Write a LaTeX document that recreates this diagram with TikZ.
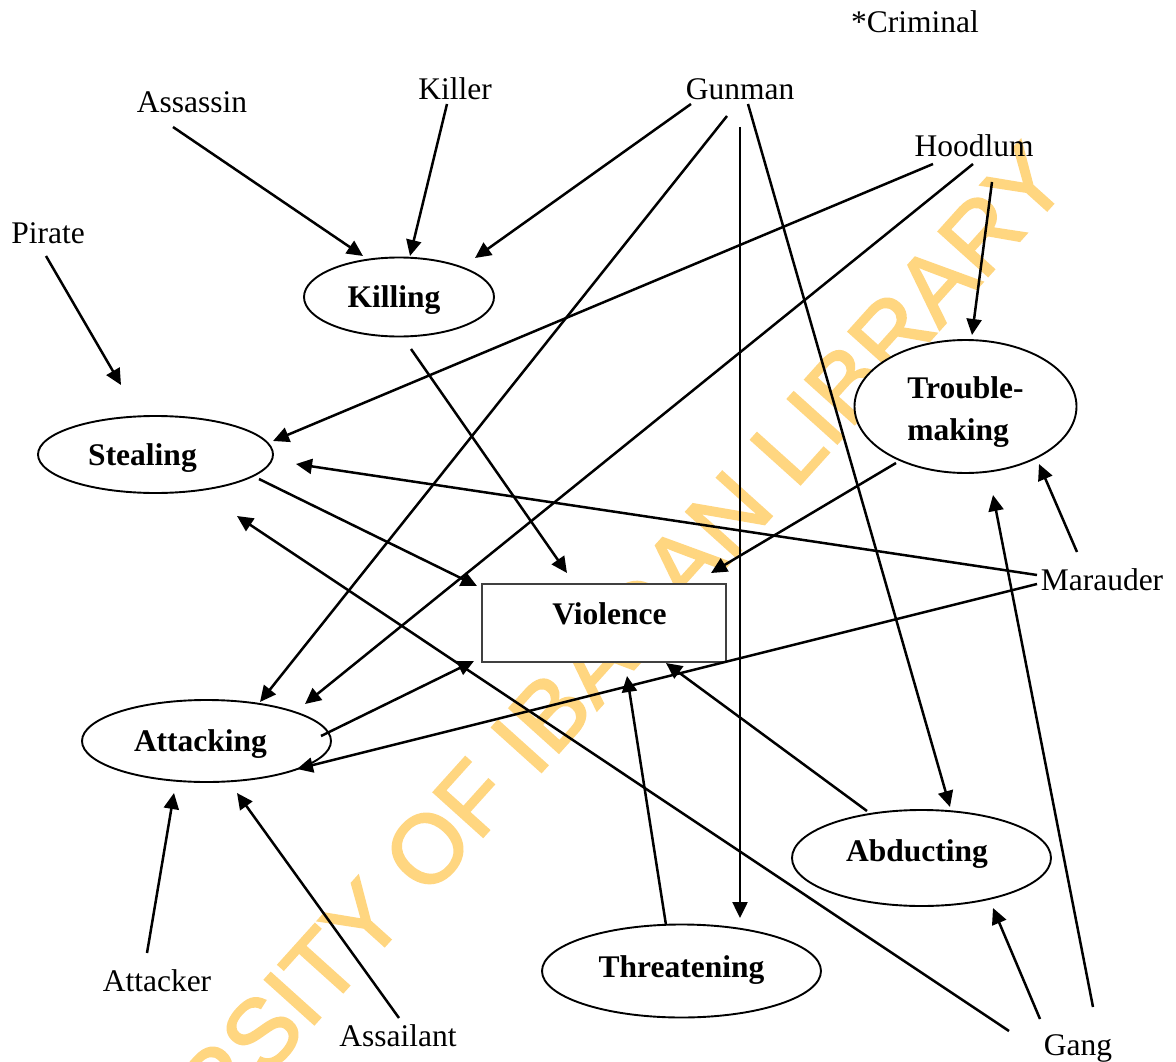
\documentclass[tikz,border=0pt]{standalone}
\usepackage{fontspec}
\setmainfont{Liberation Serif}
\newfontfamily\wmfont[FakeBold=2]{Liberation Sans}
\usetikzlibrary{arrows.meta,shapes.geometric}
\definecolor{wmyellow}{RGB}{255,214,128}
\begin{document}
\begin{tikzpicture}[x=1pt,y=-1pt,
  lbl/.style={font=\fontsize{31.5}{38}\selectfont, inner sep=0pt, anchor=base},
  ell/.style={ellipse, draw, fill=white, line width=1.9pt, inner sep=0pt,
    font=\bfseries\fontsize{31.5}{42}\selectfont, text height=21pt, text depth=0pt},
  rectbox/.style={rectangle, draw=black!75, fill=white, line width=1.7pt, inner sep=0pt,
    font=\bfseries\fontsize{31.5}{42}\selectfont, text height=21pt, text depth=18pt},
  conn/.style={line width=2.5pt, -{Triangle[length=16pt,width=15pt]}}]
\useasboundingbox (0,0) rectangle (1176,1062);
\clip (0,0) rectangle (1176,1062);
\fill[white] (0,0) rectangle (1176,1062);

% watermark
\node[rotate=48, text=wmyellow, font=\wmfont\fontsize{97}{97}\selectfont,
  inner sep=0pt, text height=69.5pt, text depth=0pt] (wm) at (520,744) {UNIVERSITY OF IBADAN LIBRARY};

% plain labels
\node[lbl] (criminal) at (915,33) {*Criminal};
\node[lbl] (assassin) at (192,113) {Assassin};
\node[lbl] (killer) at (455,100) {Killer};
\node[lbl] (gunman) at (740,100) {Gunman};
\node[lbl] (hoodlum) at (974,157) {Hoodlum};
\node[lbl] (pirate) at (48,243) {Pirate};
\node[lbl] (marauder) at (1102,590) {Marauder};
\node[lbl] (attacker) at (157,991) {Attacker};
\node[lbl] (assailant) at (398,1046) {Assailant};
\node[lbl] (gang) at (1078,1055) {Gang};

% concept nodes
\node[ell, minimum width=190pt, minimum height=79pt] (killing) at (399,297) {Killing\hspace*{10pt}};
\node[ell, minimum width=235pt, minimum height=77pt] (stealing) at (155.5,454.5) {Stealing\hspace*{26pt}};
\node[ell, minimum width=222pt, minimum height=133pt, text height=67pt, text depth=0pt] (trouble) at (965.5,406.5)
  {\begin{tabular}[b]{@{}l@{}}Trouble-\\making\end{tabular}};
\node[rectbox, minimum width=244pt, minimum height=78pt] (violence) at (604,623) {\hspace*{11pt}Violence};
\node[ell, minimum width=249pt, minimum height=82pt] (attacking) at (206.5,741) {Attacking\hspace*{12pt}};
\node[ell, minimum width=259pt, minimum height=96pt, text depth=14pt] (abducting) at (921.5,858) {Abducting\hspace*{9pt}};
\node[ell, minimum width=279pt, minimum height=93pt, text depth=9pt] (threatening) at (681.5,971) {Threatening};

% connectors
\draw[conn] ([shift={(-19,14)}]assassin.base) -- ([shift={(-36,-41)}]killing.center);
\draw[conn] ([shift={(-8,4)}]killer.base) -- ([shift={(11,-41)}]killing.center);
\draw[conn] ([shift={(-49,4)}]gunman.base) -- ([shift={(76,-39)}]killing.center);
\draw[conn] ([shift={(-13,16)}]gunman.base) -- ([shift={(53.5,-39)}]attacking.center);
\draw[conn] ([shift={(0,27)}]gunman.base) -- ([shift={(58.5,-53)}]threatening.center);
\draw[conn] ([shift={(8,4)}]gunman.base) -- ([shift={(28.5,-51)}]abducting.center);
\draw[conn] ([shift={(-41,7)}]hoodlum.base) -- ([shift={(117.5,-13.5)}]stealing.center);
\draw[conn] ([shift={(-1,7)}]hoodlum.base) -- ([shift={(98.5,-37)}]attacking.center);
\draw[conn] ([shift={(18,25)}]hoodlum.base) -- ([shift={(6.5,-71.5)}]trouble.center);
\draw[conn] ([shift={(-2,13)}]pirate.base) -- ([shift={(-34.5,-69.5)}]stealing.center);
\draw[conn] ([shift={(12,52)}]killing.center) -- ([shift={(-37,-50)}]violence.center);
\draw[conn] ([shift={(103.5,24.5)}]stealing.center) -- ([shift={(-127,-37)}]violence.center);
\draw[conn] ([shift={(-69.5,56.5)}]trouble.center) -- ([shift={(107,-50)}]violence.center);
\draw[conn] ([shift={(-65,-15)}]marauder.base) -- ([shift={(140.5,9.5)}]stealing.center);
\draw[conn] ([shift={(-65,-6)}]marauder.base) -- ([shift={(90.5,28)}]attacking.center);
\draw[conn] ([shift={(-25,-38)}]marauder.base) -- ([shift={(73.5,57.5)}]trouble.center);
\draw[conn] ([shift={(114.5,-5)}]attacking.center) -- ([shift={(-130,38)}]violence.center);
\draw[conn] ([shift={(-54.5,-47)}]abducting.center) -- ([shift={(62,40)}]violence.center);
\draw[conn] ([shift={(-15.5,-46)}]threatening.center) -- ([shift={(23,53)}]violence.center);
\draw[conn] ([shift={(-10,-38)}]attacker.base) -- ([shift={(-32.5,52)}]attacking.center);
\draw[conn] ([shift={(1,-28)}]assailant.base) -- ([shift={(30.5,52)}]attacking.center);
\draw[conn] ([shift={(-69,-24)}]gang.base) -- ([shift={(81.5,61.5)}]stealing.center);
\draw[conn] ([shift={(-38,-36)}]gang.base) -- ([shift={(71.5,50)}]abducting.center);
\draw[conn] ([shift={(15,-48)}]gang.base) -- ([shift={(27.5,88.5)}]trouble.center);
\end{tikzpicture}
\end{document}
